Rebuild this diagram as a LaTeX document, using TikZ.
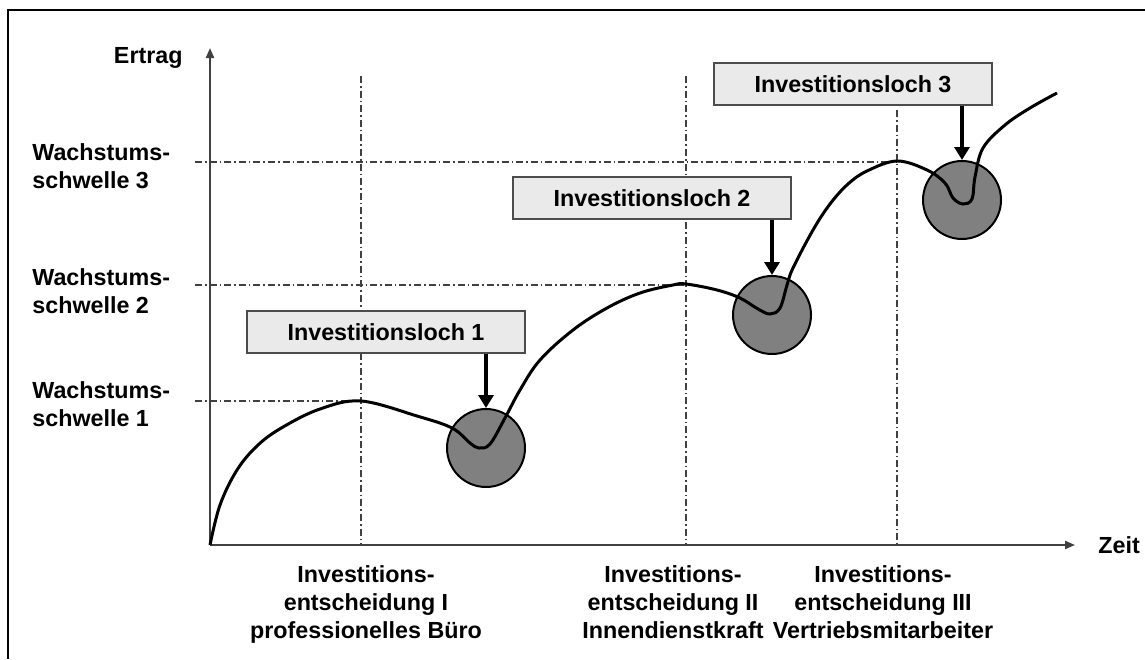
\documentclass[tikz,border=0pt]{standalone}
\usepackage{fontspec}
\setmainfont{Liberation Sans}
\usepackage{xcolor}
\usetikzlibrary{arrows.meta,positioning}
\definecolor{boxcol}{RGB}{234,234,234}
\definecolor{lochcol}{RGB}{128,128,128}
\definecolor{achscol}{RGB}{64,64,64}

\begin{document}
\begin{tikzpicture}[
    x=0.5pt, y=-0.5pt,
    font=\fontsize{11.65}{14}\selectfont\bfseries,
    lbl/.style={inner sep=0pt, align=left, anchor=north west},
    dec/.style={inner sep=0pt, align=center, anchor=north},
    box/.style={draw=black!70, line width=0.75pt, fill=boxcol, minimum width=139pt,
                minimum height=21pt, inner sep=0pt},
    loch/.style={circle, draw, line width=1pt, fill=lochcol, minimum size=39pt, inner sep=0pt},
    achse/.style={-{Triangle[length=5pt,width=4pt]}, line width=1pt, achscol},
    hilf/.style={achscol, line width=0.7pt, dash pattern=on 3.5pt off 1.5pt on 0.8pt off 1.5pt},
    ar/.style={-{Triangle[length=6.5pt,width=7.5pt]}, line width=2pt}
  ]
  \useasboundingbox (0,0) rectangle (1145,659);
  \draw[line width=1pt] (8,659) -- (8,10) -- (1145,10);

  \coordinate (O) at (210,545);
  \coordinate (ytop) at (210,48);
  \coordinate (xend) at (1075,545);

  \node[lbl] (s3) at (32,143) {Wachstums-\\schwelle 3};
  \node[lbl] (s2) at (32,268) {Wachstums-\\schwelle 2};
  \node[lbl] (s1) at (32,381) {Wachstums-\\schwelle 1};
  \node[inner sep=0pt, anchor=base east] (ertrag) at (183,63) {Ertrag};
  \node[inner sep=0pt, anchor=base west] (zeit) at (1098,553) {Zeit};

  \node[dec] (d1) at (366,565) {Investitions-\\entscheidung I\\professionelles Büro};
  \node[dec] (d2) at (673,565) {Investitions-\\entscheidung II\\Innendienstkraft};
  \node[dec] (d3) at (883,565) {Investitions-\\entscheidung III\\Vertriebsmitarbeiter};

  \draw[hilf] (195,401) -- (361,401);
  \draw[hilf] (195,285) -- (686,285);
  \draw[hilf] (195,162) -- (897,162);
  \draw[hilf] (361,76) -- (361,545);
  \draw[hilf] (686,76) -- (686,545);
  \draw[hilf] (897,110) -- (897,545);

  \draw[achse] (O) -- (ytop);
  \draw[achse] (O) -- (xend);

  \node[loch] (h1) at (486,448) {};
  \node[loch] (h2) at (772,315) {};
  \node[loch] (h3) at (962,200) {};

  \node[box] (l1) at (386,332) {Investitionsloch 1};
  \node[box] (l2) at (652,198) {Investitionsloch 2};
  \node[box] (l3) at (853,84) {Investitionsloch 3};

  \draw[ar] (h1.north |- l1.south) -- (h1.north);
  \draw[ar] (h2.north |- l2.south) -- (h2.north);
  \draw[ar] (h3.north |- l3.south) -- (h3.north);

  \draw[line width=1.5pt] plot[smooth, tension=0.6] coordinates {
    (O) (220,505) (237,470) (258,445) (283,427) (320,409) (361,401)
    (417,416) (452,428) (470,443) (479,448) (490,444) (505,418) (520,390)
    (540,360) (573,330) (607,308) (640,293) (673,285) (686,284) (717,290)
    (740,298) (758,309) (770,314) (780,308) (787,285) (793,268) (813,230)
    (830,204) (848,184) (867,171) (897,161) (927,170) (945,183)
    (953,198) (963,204) (972,199) (975,177) (983,148) (1005,125) (1030,108)
    (1057,93)};
\end{tikzpicture}
\end{document}
